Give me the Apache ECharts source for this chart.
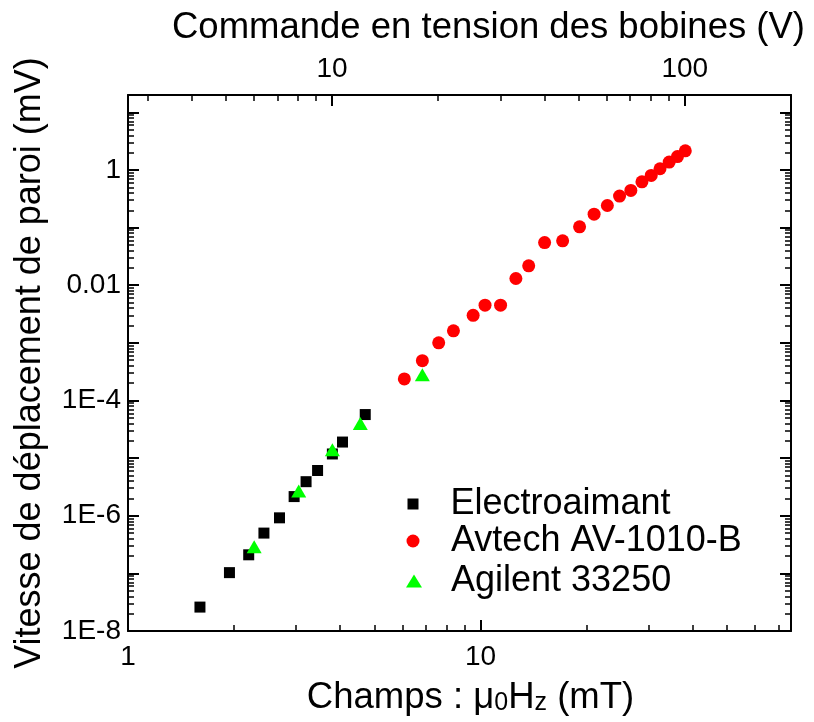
<!DOCTYPE html>
<html><head><meta charset="utf-8">
<script src="https://cdn.jsdelivr.net/npm/echarts@6/dist/echarts.min.js"></script>
<style>html,body{margin:0;padding:0;background:#fff}#c{width:814px;height:722px}</style>
</head><body><div id="c"></div><script>
// ---- data ----
const electroName = 'Electroaimant';
const electroX = [1.60, 1.94, 2.20, 2.43, 2.69, 2.96, 3.20, 3.45, 3.80, 4.06, 4.71];
const electroY = [2.6e-8, 1.03e-7, 2.1e-7, 5.0e-7, 9.2e-7, 2.15e-6, 3.9e-6, 6.1e-6, 1.18e-5, 1.9e-5, 5.7e-5];

const avtechName = 'Avtech AV-1010-B';
const avtechX = [6.08, 6.84, 7.61, 8.38, 9.53, 10.3, 11.4, 12.6, 13.7, 15.2, 17.1, 19.1, 21.0, 22.9, 24.8, 26.7, 28.7, 30.5, 32.3, 34.3, 36.2, 38.1];
const avtechY = [2.37e-4, 4.9e-4, 1.0e-3, 1.62e-3, 3.0e-3, 4.5e-3, 4.5e-3, 1.31e-2, 2.17e-2, 5.5e-2, 5.9e-2, 0.103, 0.171, 0.242, 0.352, 0.441, 0.624, 0.804, 1.05, 1.37, 1.71, 2.15];

const agilentName = 'Agilent 33250';
const agilentX = [2.28, 3.05, 3.80, 4.56, 6.84];
const agilentY = [2.9e-7, 2.7e-6, 1.4e-5, 4.0e-5, 2.8e-4];

const xTickValues = [1, 10];
const xTickLabels = ['1', '10'];
const topTickValues = [10, 100];
const topTickLabels = ['10', '100'];
const yTickValues = [1e-8, 1e-6, 1e-4, 0.01, 1];
const yTickLabels = ['1E-8', '1E-6', '1E-4', '0.01', '1'];

const xRange = [1, 76];
const topRange = [2.64, 200];
const yRange = [1e-8, 20];

const topTitle = 'Commande en tension des bobines (V)';
const yTitle = 'Vitesse de déplacement de paroi (mV)';

// ---- helpers ----
const L = Math.log10;
function decadeTicks(min, max) {
  const major = [], minor = [];
  const lo = Math.floor(L(min)) - 1, hi = Math.ceil(L(max)) + 1;
  for (let n = lo; n <= hi; n++) {
    for (let k = 1; k <= 9; k++) {
      const v = k * Math.pow(10, n);
      if (v < min * 0.9999 || v > max * 1.0001) continue;
      if (k === 1) major.push(L(v)); else minor.push(L(v));
    }
  }
  return { major, minor };
}
function labelFmt(values, labels) {
  return function (v) {
    for (let i = 0; i < values.length; i++) if (Math.abs(L(values[i]) - v) < 1e-6) return labels[i];
    return '';
  };
}
const FONT = 'Liberation Sans, Arial, sans-serif';
const lineStyle = { color: '#000', width: 2 };
const tickMajor = (vals) => ({ show: true, inside: true, length: 11, customValues: vals, lineStyle: { color: '#000', width: 2 } });
const tickMinor = (vals) => ({ show: true, inside: true, length: 6, customValues: vals, lineStyle: { color: '#000', width: 1.5 } });
const noLabel = { show: false };

const xt = decadeTicks(xRange[0], xRange[1]);
const tt = decadeTicks(topRange[0], topRange[1]);
const yt = decadeTicks(yRange[0], yRange[1]);

function decoAxis(range, pos, ticks, extra) {
  return Object.assign({
    type: 'value', position: pos, gridIndex: 0,
    min: L(range[0]), max: L(range[1]),
    axisLine: { show: true, onZero: false, lineStyle },
    splitLine: { show: false },
    axisTick: tickMajor(ticks.major),
    axisLabel: noLabel
  }, extra || {});
}
function minorAxis(range, pos, ticks) {
  return {
    type: 'value', position: pos, gridIndex: 0,
    min: L(range[0]), max: L(range[1]),
    axisLine: { show: false, onZero: false },
    splitLine: { show: false },
    axisTick: tickMinor(ticks.minor),
    axisLabel: noLabel
  };
}

const zip = (xs, ys) => xs.map((x, i) => [x, ys[i]]);

const option = {
  backgroundColor: '#fff',
  animation: false,
  textStyle: { fontFamily: FONT },
  grid: { left: 128, right: 23, top: 95, bottom: 91, containLabel: false, outerBoundsMode: 'none' },
  xAxis: [
    { type: 'log', logBase: 10, min: xRange[0], max: xRange[1], position: 'bottom', show: false, splitLine: { show: false } },
    decoAxis(xRange, 'bottom', xt, {
      axisLabel: { show: true, customValues: xTickValues.map(L), formatter: labelFmt(xTickValues, xTickLabels),
        color: '#000', fontSize: 28, fontFamily: FONT, margin: 12 },
      name: '{t|Champs : μ}{s|0}{t|H}{s|z}{t| (mT)}',
      nameLocation: 'middle', nameGap: 45,
      nameTextStyle: { padding: [0, 0, 0, 22], rich: {
        t: { fontSize: 36.5, fontFamily: FONT, color: '#000', lineHeight: 40, verticalAlign: 'bottom' },
        s: { fontSize: 25, fontFamily: FONT, color: '#000', lineHeight: 24, verticalAlign: 'bottom' }
      } }
    }),
    minorAxis(xRange, 'bottom', xt),
    decoAxis(topRange, 'top', tt, {
      axisLabel: { show: true, customValues: topTickValues.map(L), formatter: labelFmt(topTickValues, topTickLabels),
        color: '#000', fontSize: 28, fontFamily: FONT, margin: 12 },
      name: topTitle, nameLocation: 'middle', nameGap: 49,
      nameTextStyle: { fontSize: 36.5, fontFamily: FONT, color: '#000', padding: [0, 0, 0, 58] }
    }),
    minorAxis(topRange, 'top', tt)
  ],
  yAxis: [
    { type: 'log', logBase: 10, min: yRange[0], max: yRange[1], position: 'left', show: false, splitLine: { show: false } },
    decoAxis(yRange, 'left', yt, {
      axisLabel: { show: true, customValues: yTickValues.map(L), formatter: labelFmt(yTickValues, yTickLabels),
        color: '#000', fontSize: 28, fontFamily: FONT, margin: 7 },
      name: yTitle, nameLocation: 'middle', nameGap: 80,
      nameTextStyle: { fontSize: 36, fontFamily: FONT, color: '#000' }
    }),
    minorAxis(yRange, 'left', yt),
    decoAxis(yRange, 'right', yt),
    minorAxis(yRange, 'right', yt)
  ],
  legend: [
    { data: [{ name: electroName, icon: 'rect' }], orient: 'vertical', left: 407.5, top: 486, padding: 0,
      itemWidth: 11, itemHeight: 11, selectedMode: false,
      textStyle: { fontSize: 36, fontFamily: FONT, color: '#000', lineHeight: 36, padding: [0, 0, 0, 27] } },
    { data: [{ name: avtechName, icon: 'circle' }], orient: 'vertical', left: 406.5, top: 523, padding: 0,
      itemWidth: 13, itemHeight: 13, selectedMode: false,
      textStyle: { fontSize: 36, fontFamily: FONT, color: '#000', lineHeight: 36, padding: [0, 0, 0, 26.5] } },
    { data: [{ name: agilentName, icon: 'triangle' }], orient: 'vertical', left: 406, top: 563, padding: 0,
      itemWidth: 16, itemHeight: 13, selectedMode: false,
      textStyle: { fontSize: 36, fontFamily: FONT, color: '#000', lineHeight: 36, padding: [0, 0, 0, 24] } }
  ],
  series: [
    { name: electroName, type: 'scatter', xAxisIndex: 0, yAxisIndex: 0, symbol: 'rect', symbolSize: 11,
      itemStyle: { color: '#000', opacity: 1 }, data: zip(electroX, electroY) },
    { name: avtechName, type: 'scatter', xAxisIndex: 0, yAxisIndex: 0, symbol: 'circle', symbolSize: 13,
      itemStyle: { color: '#ff0000', opacity: 1 }, data: zip(avtechX, avtechY) },
    { name: agilentName, type: 'scatter', xAxisIndex: 0, yAxisIndex: 0, symbol: 'triangle', symbolSize: [15, 13],
      itemStyle: { color: '#00ff00', opacity: 1 }, data: zip(agilentX, agilentY) }
  ]
};
const chart = echarts.init(document.getElementById('c'), null, { renderer: 'canvas' });
chart.setOption(option);
</script></body></html>
